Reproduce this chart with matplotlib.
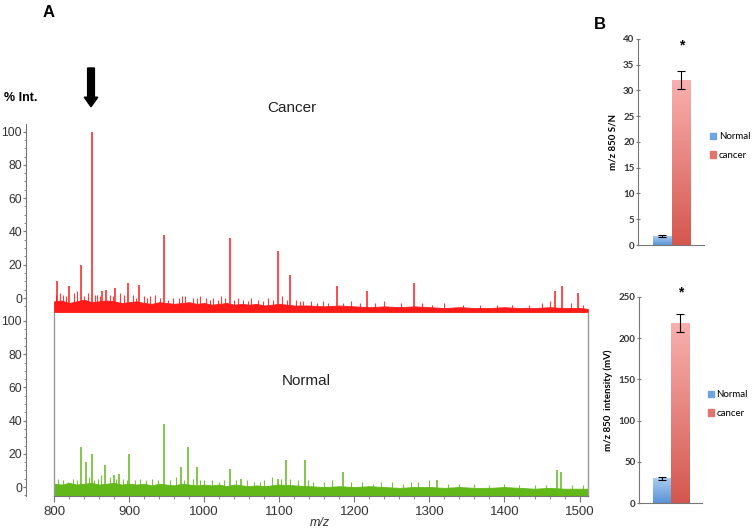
import numpy as np
import matplotlib
matplotlib.use("Agg")
import matplotlib.pyplot as plt
from matplotlib.colors import LinearSegmentedColormap
from matplotlib.patches import Patch, FancyArrow
from matplotlib.ticker import MultipleLocator

plt.rcParams['font.family'] = ['Liberation Sans', 'DejaVu Sans']

# --- spettri (m/z, % intensita') ---
cancer_peaks_mz = [804, 820, 836, 850, 864, 869, 881, 899, 913, 946, 1034, 1098,
                   1115, 1177, 1217, 1279, 1467, 1476, 1498]
cancer_peaks_int = [10, 7, 20, 100, 4, 5, 6, 9, 8, 38, 36, 28,
                    14, 7, 4, 9, 4, 7, 3]
cancer_minor_mz = [803, 808, 812, 816, 826, 831, 840, 845, 855, 857, 861, 875, 878,
                   888, 893, 905, 909, 920, 924, 928, 935, 941, 952, 958, 966, 971,
                   975, 985, 990, 995, 1003, 1008, 1012, 1018, 1022, 1028, 1040,
                   1045, 1052, 1058, 1062, 1072, 1078, 1085, 1092, 1104, 1110, 1122,
                   1127, 1132, 1142, 1150, 1158, 1165, 1185, 1195, 1207, 1228, 1240,
                   1262, 1290, 1303, 1320, 1345, 1368, 1390, 1410, 1432, 1450, 1460,
                   1488, 1505]
cancer_minor_int = [2, 3, 2, 1, 3, 4, 1, 3, 2, 2, 1, 2, 1,
                    3, 2, 2, 0, 1, 0, 1, 2, 0, -1, 0, 0, 1,
                    1, 0, 0, 1, 0, -1, 0, -1, 1, 0, -1,
                    0, -1, -2, 0, -1, -2, 0, -1, 1, -1, -1,
                    -2, -2, -2, -3, -2, -3, -3, -2, -3, -3, -2,
                    -3, -3, -4, -3, -4, -4, -4, -4, -4, -3, -2,
                    -3, -4]
cancer_noise_mz = [800, 810, 820, 830, 840, 850, 860, 870, 880, 890, 900, 910, 920,
                   930, 940, 950, 960, 970, 980, 990, 1000, 1010, 1020, 1030, 1040,
                   1050, 1060, 1070, 1080, 1090, 1100, 1120, 1140, 1160, 1180, 1200,
                   1220, 1240, 1260, 1280, 1300, 1320, 1340, 1360, 1380, 1400, 1420,
                   1440, 1460, 1480, 1500, 1511]
cancer_noise = [-2, -1.5, -3, -2, -1, -2.5, -2, -1.5, -2, -3, -2.5, -2, -3,
                -3.5, -2.5, -3, -3.5, -3, -2.5, -3.5, -3, -4, -3.5, -3, -4,
                -3.5, -4, -3.5, -4.5, -4, -3.5, -4.5, -4.5, -5, -4.5, -5,
                -5.5, -5, -5.5, -5, -5.5, -6, -5.5, -6, -6, -5.5, -6,
                -6, -5.5, -6, -6, -6.5]

normal_peaks_mz = [836, 842, 851, 868, 880, 887, 900, 946, 969, 978, 990, 1034,
                   1049, 1098, 1109, 1134, 1185, 1310, 1470, 1475]
normal_peaks_int = [24, 15, 20, 13, 7, 8, 20, 38, 12, 24, 12, 11,
                    5, 5, 16, 16, 9, 4, 10, 9]
normal_minor_mz = [805, 812, 818, 825, 831, 846, 853, 858, 862, 875, 883, 892, 897,
                   908, 914, 922, 930, 938, 955, 962, 973, 985, 994, 1000, 1010,
                   1020, 1027, 1042, 1057, 1066, 1074, 1080, 1090, 1103, 1115, 1125,
                   1138, 1145, 1160, 1170, 1195, 1210, 1225, 1235, 1250, 1265, 1275,
                   1285, 1300, 1325, 1340, 1360, 1380, 1400, 1420, 1440, 1455, 1490,
                   1505]
normal_minor_int = [5, 4, 3, 5, 4, 6, 4, 5, 7, 6, 5, 5, 4,
                    4, 5, 4, 5, 4, 4, 6, 4, 5, 4, 4, 4,
                    3, 4, 4, 4, 3, 3, 4, 6, 5, 5, 4,
                    4, 3, 3, 4, 3, 3, 2, 3, 3, 2, 3,
                    3, 4, 2, 2, 2, 1, 2, 1, 1, 1, 1,
                    1]
normal_noise_mz = cancer_noise_mz
normal_noise = [2, 1.5, 2.5, 1.5, 2, 2.5, 1.5, 2, 2.5, 1.5, 2, 1.5, 2,
                1, 2, 1.5, 1, 2, 1.5, 1, 1.5, 1, 1.5, 0.5, 1.5,
                1, 0.5, 1, 0.5, 1, 1.5, 1, 0.5, 0, 0.5, 0,
                0.5, 0, -0.5, 0, 0, -0.5, 0, -0.5, -0.5, 0, -0.5,
                -1, -0.5, -1, -1, -1]

xticks_A = [800, 900, 1000, 1100, 1200, 1300, 1400, 1500]
yticks_A = [0, 20, 40, 60, 80, 100]

# --- pannello B ---
gruppi = ["Normal", "cancer"]
sn_media = [1.7, 32.0]
sn_err = [0.15, 1.7]
int_media = [30.0, 218.0]
int_err = [1.5, 11.0]

fig = plt.figure(figsize=(7.54, 5.31), dpi=100)

grigio = '#777777'
testo = '#333333'


def spettro(ax, noise_mz, noise, peaks_mz, peaks_int, minor_mz, minor_int, colore, ylim):
    ax.set_xlim(800, 1511)
    ax.set_ylim(*ylim)
    base = ylim[0]
    ax.fill_between(noise_mz, base, noise, color=colore, lw=0.6, edgecolor=colore, zorder=2)
    ax.vlines(minor_mz, base, minor_int, color=colore, lw=0.8, alpha=0.85, zorder=2)
    ax.vlines(peaks_mz, base, peaks_int, color=colore, lw=1.1, zorder=3)
    for s in ['top', 'right', 'bottom']:
        ax.spines[s].set_visible(False)
    ax.spines['left'].set_position(('outward', 20))
    ax.spines['left'].set_color(grigio)
    ax.set_yticks(yticks_A)
    ax.yaxis.set_minor_locator(MultipleLocator(5))
    ax.tick_params(axis='y', which='major', length=2.5, color=grigio, labelsize=8.8,
                   labelcolor=testo, pad=0.5)
    ax.tick_params(axis='y', which='minor', length=1.5, color=grigio)


ax1 = fig.add_axes([0.0716, 0.4124, 0.708, 0.354])
spettro(ax1, cancer_noise_mz, cancer_noise, cancer_peaks_mz, cancer_peaks_int,
        cancer_minor_mz, cancer_minor_int, '#ff1a1a', (-8.4, 104.5))
ax1.set_xticks([])

ax2 = fig.add_axes([0.0716, 0.0659, 0.708, 0.3446])
spettro(ax2, normal_noise_mz, normal_noise, normal_peaks_mz, normal_peaks_int,
        normal_minor_mz, normal_minor_int, '#62b818', (-5.4, 104.8))
ax2.spines['bottom'].set_visible(True)
ax2.spines['bottom'].set_color(grigio)
ax2.plot([0, 0], [0, 1], transform=ax2.transAxes, color='#999999', lw=1, clip_on=False)
ax2.plot([1, 1], [0, 1], transform=ax2.transAxes, color='#999999', lw=1, clip_on=False)
ax2.set_xticks(xticks_A)
ax2.xaxis.set_minor_locator(MultipleLocator(20))
ax2.tick_params(axis='x', which='major', length=4, color=grigio, labelsize=9.5,
                labelcolor=testo, pad=3)
ax2.tick_params(axis='x', which='minor', length=2, color=grigio)

fig.text(0.064, 0.977, "A", fontsize=12, fontweight='bold', ha='center', va='center')
fig.text(0.028, 0.815, "% Int.", fontsize=9, fontweight='bold', ha='center', va='center')
fig.text(0.387, 0.797, "Cancer", fontsize=11, ha='center', va='center', color='#222222')
fig.text(0.406, 0.2825, "Normal", fontsize=11, ha='center', va='center', color='#222222')
fig.text(0.424, 0.015, "m/z", fontsize=9, style='italic', ha='center', va='center',
         color=testo)
fig.patches.append(FancyArrow(
    0.1207, 1 - 68 / 531, 0, -0.073, width=0.009, head_width=0.018,
    head_length=0.018, length_includes_head=True, color='black',
    transform=fig.transFigure, figure=fig))

fig.text(0.796, 0.953, "B", fontsize=12, fontweight='bold', ha='center', va='center')


def barre_gradiente(ax, medie, errori, ymax, passo, ylabel, y_star):
    x = [0, 1]
    cols = [('#a9ccf0', '#5a93d6'), ('#f8b0ae', '#d4574f')]
    barre = ax.bar(x, medie, width=1.0, color='none', edgecolor='none', zorder=2)
    for b, (ctop, cbot) in zip(barre, cols):
        cmap = LinearSegmentedColormap.from_list('g', [cbot, ctop])
        grad = np.linspace(0, 1, 128).reshape(-1, 1)
        im = ax.imshow(grad, extent=[b.get_x(), b.get_x() + b.get_width(), 0, b.get_height()],
                       origin='lower', cmap=cmap, aspect='auto', zorder=2)
        im.set_clip_path(b)
    ax.errorbar(x, medie, yerr=errori, fmt='none', ecolor='black', elinewidth=0.8,
                capsize=3, capthick=0.8, zorder=3)
    ax.set_xlim(-1.3, 2.2)
    ax.set_ylim(0, ymax)
    ax.set_yticks(np.arange(0, ymax + passo, passo))
    ax.set_xticks([])
    for s in ['top', 'right']:
        ax.spines[s].set_visible(False)
    ax.spines['left'].set_color(grigio)
    ax.spines['bottom'].set_color(grigio)
    ax.tick_params(axis='y', length=3, direction='inout', color=grigio, labelsize=7,
                   labelcolor=testo, pad=1)
    for t in ax.get_yticklabels():
        t.set_fontweight('bold')
        t.set_family(['Lato', 'DejaVu Sans'])
    ax.set_ylabel(ylabel, fontsize=7, fontweight='bold', family=['Lato', 'DejaVu Sans'],
                  labelpad=4)
    ax.text(1, y_star, "*", fontsize=10, fontweight='bold', ha='center', va='center',
            clip_on=False)
    handles = [Patch(color='#6fa5e0', label=gruppi[0]), Patch(color='#e07570', label=gruppi[1])]
    ax.legend(handles=handles, loc='center left', bbox_to_anchor=(1.1, 0.48), frameon=False,
              borderpad=0, borderaxespad=0, handlelength=0.6, handleheight=0.6,
              handletextpad=0.25, labelspacing=1.0,
              prop={'family': ['Lato', 'DejaVu Sans'], 'size': 7})


axb1 = fig.add_axes([0.846, 0.5386, 0.0875, 0.388])
barre_gradiente(axb1, sn_media, sn_err, 40, 5, "m/z 850 S/N", 38.8)

axb2 = fig.add_axes([0.8475, 0.0527, 0.0836, 0.388])
barre_gradiente(axb2, int_media, int_err, 250, 50, "m/z 850  intensity (mV)", 255)

plt.savefig("out.png", dpi=100)
